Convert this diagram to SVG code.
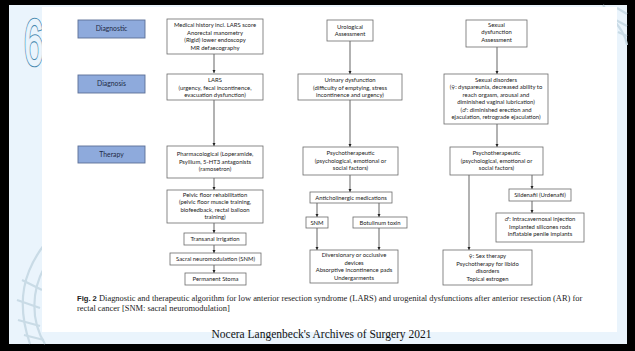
<svg xmlns="http://www.w3.org/2000/svg" width="635" height="351" viewBox="0 0 635 351">
<defs>
<marker id="ah" viewBox="0 0 6 6" refX="6" refY="3" markerWidth="3.2" markerHeight="3.2" orient="auto" markerUnits="userSpaceOnUse"><path d="M0,0 L6,3 L0,6 z" fill="#222"/></marker>
<style>
.bx{fill:#fff;stroke:#6b6b6b;stroke-width:0.8}
.lb{fill:#8eaadc;stroke:#5b6f95;stroke-width:0.9}
.t{font-family:"Lato","Liberation Sans",sans-serif;font-size:5.9px;fill:#222;text-anchor:middle}
.sym{font-family:"DejaVu Sans",sans-serif;font-size:5.2px}
.lt{font-family:"Lato","Liberation Sans",sans-serif;font-size:6.8px;fill:#1f2a44;text-anchor:middle}
.c{stroke:#222;stroke-width:0.7;fill:none;marker-end:url(#ah)}
.cap{font-family:"Liberation Serif",serif;font-size:8.45px;fill:#222}
.deco{fill:none;stroke:#c9dbe6;stroke-width:2.2}
</style>
</defs>
<rect x="0" y="0" width="635" height="351" fill="#000"/>
<rect x="9" y="5" width="618" height="339" fill="#eaf4fc"/>
<g id="decoration">
<path class="deco" d="M44,245 C25,270 15,300 30,344"/>
<path class="deco" d="M44,268 C32,290 30,320 45,344"/>
<path class="deco" d="M22,280 L42,290 M17,300 L40,308 M18,320 L40,326 M24,335 L44,340"/>
<path class="deco" d="M603,5 C612,20 625,30 627,45"/>
<path class="deco" d="M617,8 L627,14 M612,18 L627,26 M618,32 L627,36"/>
<text x="0" y="0" transform="translate(24,65) scale(0.55,1)" font-family="Liberation Sans,sans-serif" font-size="64" fill="#eaf4fc" stroke="#4a8ab0" stroke-width="3.6">6</text>
<text x="0" y="0" transform="translate(24,65) scale(0.55,1)" font-family="Liberation Sans,sans-serif" font-size="64" fill="#eaf4fc" stroke="#eaf4fc" stroke-width="1.4">6</text>
</g>
<rect x="42" y="7" width="575" height="325" fill="#fff"/>

<g id="connectors">
<line class="c" x1="214" y1="54" x2="214" y2="73"/>
<line class="c" x1="214" y1="100" x2="214" y2="146"/>
<line class="c" x1="214" y1="178" x2="214" y2="190"/>
<line class="c" x1="214" y1="223" x2="214" y2="233"/>
<line class="c" x1="214" y1="245" x2="214" y2="253"/>
<line class="c" x1="214" y1="265" x2="214" y2="273"/>
<line class="c" x1="350" y1="41" x2="350" y2="74"/>
<line class="c" x1="350" y1="100" x2="350" y2="147"/>
<line class="c" x1="350" y1="175" x2="350" y2="192"/>
<line class="c" x1="317" y1="203" x2="317" y2="217"/>
<line class="c" x1="379" y1="203" x2="379" y2="217"/>
<line class="c" x1="317" y1="228" x2="317" y2="250"/>
<line class="c" x1="379" y1="228" x2="379" y2="250"/>
<line class="c" x1="497" y1="47" x2="497" y2="74"/>
<line class="c" x1="497" y1="124" x2="497" y2="147"/>
<line class="c" x1="469" y1="175" x2="469" y2="250"/>
<line class="c" x1="532" y1="175" x2="532" y2="189"/>
<line class="c" x1="532" y1="201" x2="532" y2="213"/>
</g>

<g id="label-diagnostic"><rect class="lb" x="78" y="20" width="67" height="18"/><text class="lt" x="111.5" y="31.4">Diagnostic</text></g>
<g id="label-diagnosis"><rect class="lb" x="78" y="75" width="67" height="18"/><text class="lt" x="111.5" y="86.4">Diagnosis</text></g>
<g id="label-therapy"><rect class="lb" x="78" y="146" width="67" height="17"/><text class="lt" x="111.5" y="156.9">Therapy</text></g>

<g id="lars-diagnostic"><rect class="bx" x="167" y="19" width="96" height="35"/>
<text class="t" x="215" y="27">Medical history incl. LARS score</text>
<text class="t" x="215" y="34.5">Anorectal manometry</text>
<text class="t" x="215" y="42">(Rigid) lower endoscopy</text>
<text class="t" x="215" y="49.5">MR defaecography</text></g>
<g id="lars"><rect class="bx" x="167" y="74" width="96" height="26"/>
<text class="t" x="215" y="82">LARS</text>
<text class="t" x="215" y="89.5">(urgency, fecal incontinence,</text>
<text class="t" x="215" y="97">evacuation dysfunction)</text></g>
<g id="pharma"><rect class="bx" x="167" y="146" width="96" height="32"/>
<text class="t" x="215" y="156">Pharmacological (Loperamide,</text>
<text class="t" x="215" y="163.5">Psyllium, 5-HT3 antagonists</text>
<text class="t" x="215" y="171">(ramosetron)</text></g>
<g id="pelvic"><rect class="bx" x="167" y="190" width="96" height="33"/>
<text class="t" x="215" y="196.7">Pelvic floor rehabilitation</text>
<text class="t" x="215" y="204.2">(pelvic floor muscle training,</text>
<text class="t" x="215" y="211.7">biofeedback, rectal balloon</text>
<text class="t" x="215" y="219.2">training)</text></g>
<g id="transanal"><rect class="bx" x="184" y="233" width="62" height="12"/><text class="t" x="215" y="241.1">Transanal irrigation</text></g>
<g id="sacral"><rect class="bx" x="170" y="253" width="91" height="12"/><text class="t" x="215.5" y="261.1">Sacral neuromodulation (SNM)</text></g>
<g id="stoma"><rect class="bx" x="185" y="273" width="61" height="12"/><text class="t" x="215.5" y="281.1">Permanent Stoma</text></g>

<g id="uro-assessment"><rect class="bx" x="327" y="20" width="46" height="21"/>
<text class="t" x="350" y="28.5">Urological</text><text class="t" x="350" y="36">Assessment</text></g>
<g id="urinary"><rect class="bx" x="298" y="74" width="104" height="26"/>
<text class="t" x="350" y="82">Urinary dysfunction</text>
<text class="t" x="350" y="89.5">(difficulty of emptying, stress</text>
<text class="t" x="350" y="97">incontinence and urgency)</text></g>
<g id="uro-psycho"><rect class="bx" x="303" y="147" width="95" height="28"/>
<text class="t" x="350.5" y="155">Psychotherapeutic</text>
<text class="t" x="350.5" y="162.5">(psychological, emotional or</text>
<text class="t" x="350.5" y="170">social factors)</text></g>
<g id="anticholinergic"><rect class="bx" x="310" y="192" width="82" height="11"/><text class="t" x="351" y="199.7">Anticholinergic medications</text></g>
<g id="snm"><rect class="bx" x="306" y="217" width="22" height="11"/><text class="t" x="317" y="224.7">SNM</text></g>
<g id="botulinum"><rect class="bx" x="353" y="217" width="54" height="11"/><text class="t" x="380" y="224.7">Botulinum toxin</text></g>
<g id="diversionary"><rect class="bx" x="310" y="250" width="88" height="33"/>
<text class="t" x="354" y="257">Diversionary or occlusive</text>
<text class="t" x="354" y="264.5">devices</text>
<text class="t" x="354" y="272">Absorptive incontinence pads</text>
<text class="t" x="354" y="279.5">Undergarments</text></g>

<g id="sex-assessment"><rect class="bx" x="466" y="20" width="61" height="27"/>
<text class="t" x="496.5" y="26.5">Sexual</text><text class="t" x="496.5" y="34">dysfunction</text><text class="t" x="496.5" y="41.5">Assessment</text></g>
<g id="sex-disorders"><rect class="bx" x="444" y="74" width="104" height="50"/>
<text class="t" x="496" y="81.5">Sexual disorders</text>
<text class="t" x="496" y="89">(<tspan class="sym">♀</tspan>: dyspareunia, decreased ability to</text>
<text class="t" x="496" y="96.5">reach orgasm, arousal and</text>
<text class="t" x="496" y="104">diminished vaginal lubrication)</text>
<text class="t" x="496" y="111.5">(<tspan class="sym">♂</tspan>: diminished erection and</text>
<text class="t" x="496" y="119">ejaculation, retrograde ejaculation)</text></g>
<g id="sex-psycho"><rect class="bx" x="450" y="147" width="93" height="28"/>
<text class="t" x="496.5" y="155">Psychotherapeutic</text>
<text class="t" x="496.5" y="162.5">(psychological, emotional or</text>
<text class="t" x="496.5" y="170">social factors)</text></g>
<g id="sildenafil"><rect class="bx" x="509" y="189" width="62" height="12"/><text class="t" x="540" y="197.1">Sildenafil (Urdenafil)</text></g>
<g id="male-therapy"><rect class="bx" x="496" y="213" width="88" height="29"/>
<text class="t" x="540" y="221"><tspan class="sym">♂</tspan>: Intracavernosal injection</text>
<text class="t" x="540" y="228.5">Implanted silicones rods</text>
<text class="t" x="540" y="236">Inflatable penile implants</text></g>
<g id="female-therapy"><rect class="bx" x="443" y="250" width="89" height="35"/>
<text class="t" x="487.5" y="258"><tspan class="sym">♀</tspan>: Sex therapy</text>
<text class="t" x="487.5" y="265.5">Psychotherapy for libido</text>
<text class="t" x="487.5" y="273">disorders</text>
<text class="t" x="487.5" y="280.5">Topical estrogen</text></g>

<g id="caption">
<text class="cap" x="77" y="301"><tspan font-family="Liberation Sans,sans-serif" font-weight="bold" font-size="7.6">Fig. 2</tspan>  Diagnostic and therapeutic algorithm for low anterior resection syndrome (LARS) and urogenital dysfunctions after anterior resection (AR) for</text>
<text class="cap" x="77" y="311">rectal cancer [SNM: sacral neuromodulation]</text>
<text x="321.5" y="338" font-family="Liberation Serif,serif" font-size="11.5" fill="#111" text-anchor="middle">Nocera Langenbeck's Archives of Surgery 2021</text>
</g>
</svg>
